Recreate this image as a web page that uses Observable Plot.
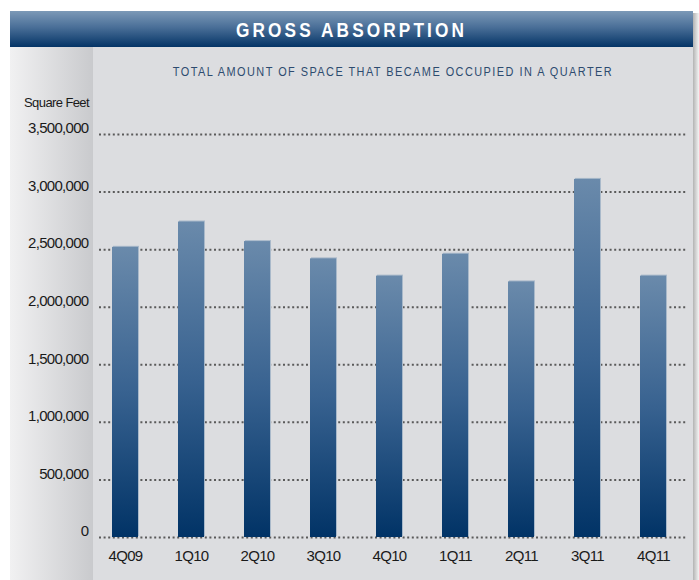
<!DOCTYPE html>
<html>
<head>
<meta charset="utf-8">
<script src="https://cdn.jsdelivr.net/npm/d3@7"></script>
<script src="https://cdn.jsdelivr.net/npm/@observablehq/plot@0.6"></script>
<style>
  html, body { margin: 0; padding: 0; background: #fff; }
  #wrap { position: relative; width: 699px; height: 580px; background: #fff; overflow: hidden; font-family: "Liberation Sans", Arial, sans-serif; }
  .abs { position: absolute; }
  #shadow { left: 693px; top: 13px; width: 6px; height: 567px; background: linear-gradient(to right, #b3b3b3, #f4f4f4); }
  #header { left: 10px; top: 11px; width: 683px; height: 36px; background: linear-gradient(to bottom, #7c99b7, #4a6f98 45%, #043466); }
  #panel { left: 10px; top: 47px; width: 683px; height: 533px; background: #dcdde0; }
  #strip { left: 10px; top: 47px; width: 83px; height: 533px; background: linear-gradient(to right, #f1f1f2, #c9cacd); }
  #title { left: 10px; top: 11px; width: 683px; height: 36px; line-height: 37px; text-align: center; color: #fff; font-weight: bold; font-size: 21px; letter-spacing: 3.8px; transform: scaleX(0.82); }
  #subtitle { left: 93px; top: 64px; width: 600px; text-align: center; color: #2d4b6f; font-size: 12px; letter-spacing: 1.6px; transform: scaleX(0.91); line-height: 16px; }
  #unit { left: 0px; top: 95px; width: 89px; text-align: right; color: #1a1a1a; font-size: 13px; letter-spacing: -0.6px; line-height: 16px; }
  #chart { left: 0; top: 47px; }
</style>
</head>
<body>
<div id="wrap">
  <div id="shadow" class="abs"></div>
  <div id="header" class="abs"></div>
  <div id="panel" class="abs"></div>
  <div id="strip" class="abs"></div>
  <div id="title" class="abs">GROSS ABSORPTION</div>
  <div id="subtitle" class="abs">TOTAL AMOUNT OF SPACE THAT BECAME OCCUPIED IN A QUARTER</div>
  <div id="unit" class="abs">Square Feet</div>
  <div id="chart" class="abs"></div>
</div>
<script>
const quarters = ["4Q09", "1Q10", "2Q10", "3Q10", "4Q10", "1Q11", "2Q11", "3Q11", "4Q11"];
const absorption = [2520000, 2740000, 2570000, 2420000, 2270000, 2460000, 2220000, 3110000, 2270000];
const yTicks = [0, 500000, 1000000, 1500000, 2000000, 2500000, 3000000, 3500000];

const data = quarters.map((q, i) => ({quarter: q, value: absorption[i]}));

const gradientDefs = () => {
  const ns = "http://www.w3.org/2000/svg";
  const defs = document.createElementNS(ns, "defs");
  defs.innerHTML = '<linearGradient id="barGrad" x1="0" y1="0" x2="0" y2="1">' +
    '<stop offset="0" stop-color="#6a8aab"/>' +
    '<stop offset="0.5" stop-color="#386290"/>' +
    '<stop offset="1" stop-color="#013366"/></linearGradient>';
  return defs;
};

const chart = Plot.plot({
  width: 699,
  height: 533,
  marginTop: 87,
  marginBottom: 43,
  marginLeft: 99,
  marginRight: 12,
  style: {background: "transparent", fontFamily: "'Liberation Sans', Arial, sans-serif", color: "#1a1a1a", overflow: "visible"},
  x: {domain: quarters, paddingInner: 0.6, paddingOuter: 0.2, align: 0.4, label: null},
  y: {domain: [0, 3500000], label: null},
  marks: [
    gradientDefs,
    Plot.ruleY(yTicks, {stroke: "#5a5a5a", strokeWidth: 2, strokeDasharray: "2 2.6"}),
    Plot.barY(data, {x: "quarter", y: "value", fill: "#a9b9ca", dx: 1, dy: -1}),
    Plot.barY(data, {x: "quarter", y: "value", fill: "url(#barGrad)"}),
    Plot.axisY({ticks: yTicks, tickSize: 0, tickPadding: 11, dy: -6, tickFormat: d3.format(","), fontSize: 15, fill: "#1a1a1a", label: null}),
    Plot.axisX({tickSize: 0, tickPadding: 13, fontSize: 15, fill: "#1a1a1a", label: null})
  ]
});
chart.style.letterSpacing = "-0.7px";
document.getElementById("chart").appendChild(chart);
</script>
</body>
</html>
